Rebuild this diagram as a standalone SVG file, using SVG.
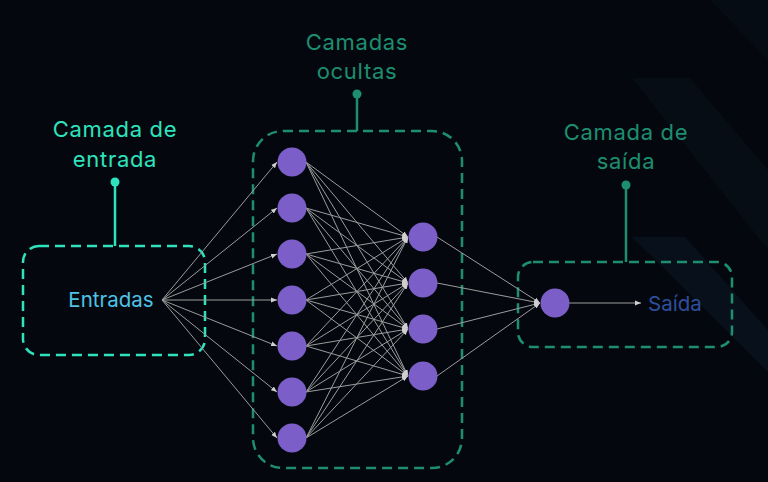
<svg xmlns="http://www.w3.org/2000/svg" width="768" height="482" viewBox="0 0 768 482">
<defs>
<marker id="ah" viewBox="0 0 6 6" refX="6" refY="3" markerWidth="6" markerHeight="6" markerUnits="userSpaceOnUse" orient="auto">
<path d="M0,0.6 L6,3 L0,5.4 Z" fill="#cfcfcf"/>
</marker>
<style>
.lbl{font-family:"Inter","Liberation Sans",sans-serif;font-size:22px;text-anchor:middle;letter-spacing:0.7px}
.in{fill:#2ee3bd}
.hd{fill:#1e8e70}
.box{fill:none;stroke-width:2.5;stroke-dasharray:10 6}
.node{fill:#7b5ec8}
.edge{stroke:#9c9c9c;stroke-width:1;fill:none;marker-end:url(#ah)}
.io{font-family:"Inter","Liberation Sans",sans-serif;font-size:20.5px}
</style>
</defs>
<rect width="768" height="482" fill="#04080e"/>
<g id="bg">
<polygon points="710,0 768,0 768,60" fill="#060c14"/>
<polygon points="632,78 690,78 768,170 768,250" fill="#060d15"/>
<polygon points="632,237 685,237 768,330 768,372" fill="#08111b"/>
</g>

<g id="input-layer">
<text class="lbl in" x="115" y="137">Camada de</text>
<text class="lbl in" x="115" y="167">entrada</text>
<circle cx="115" cy="182" r="4.5" fill="#2ee3bd"/>
<line x1="115" y1="182" x2="115" y2="246" stroke="#2ee3bd" stroke-width="2.5"/>
<rect class="box" x="23" y="246" width="182" height="109" rx="16" stroke="#2ee3bd"/>
<text class="io" x="111" y="307" text-anchor="middle" fill="#4fc2e6">Entradas</text>
</g>

<g id="hidden-layers">
<text class="lbl hd" x="357" y="50">Camadas</text>
<text class="lbl hd" x="357" y="79">ocultas</text>
<circle cx="357" cy="94" r="4.5" fill="#1e8e70"/>
<line x1="357" y1="94" x2="357" y2="131" stroke="#1e8e70" stroke-width="2.5"/>
<rect class="box" x="253" y="131" width="209" height="337" rx="30" stroke="#1e8e70"/>
</g>

<g id="output-layer">
<text class="lbl hd" x="626" y="140">Camada de</text>
<text class="lbl hd" x="626" y="169">saída</text>
<circle cx="626" cy="185" r="4.5" fill="#1e8e70"/>
<line x1="626" y1="185" x2="626" y2="262" stroke="#1e8e70" stroke-width="2.5"/>
<rect class="box" x="518" y="262" width="214" height="85" rx="15" stroke="#1e8e70"/>
<text class="io" x="648" y="311" fill="#2f4f9c">Saída</text>
</g>

<g id="connectors">
<path class="edge" d="M162,300 L277,162"/>
<path class="edge" d="M162,300 L277,208"/>
<path class="edge" d="M162,300 L277,254"/>
<path class="edge" d="M162,300 L277,300"/>
<path class="edge" d="M162,300 L277,346"/>
<path class="edge" d="M162,300 L277,392"/>
<path class="edge" d="M162,300 L277,438"/>

<path class="edge" d="M306,162 L408,237"/><path class="edge" d="M306,162 L408,283"/><path class="edge" d="M306,162 L408,329"/><path class="edge" d="M306,162 L408,376"/>
<path class="edge" d="M306,208 L408,237"/><path class="edge" d="M306,208 L408,283"/><path class="edge" d="M306,208 L408,329"/><path class="edge" d="M306,208 L408,376"/>
<path class="edge" d="M306,254 L408,237"/><path class="edge" d="M306,254 L408,283"/><path class="edge" d="M306,254 L408,329"/><path class="edge" d="M306,254 L408,376"/>
<path class="edge" d="M306,300 L408,237"/><path class="edge" d="M306,300 L408,283"/><path class="edge" d="M306,300 L408,329"/><path class="edge" d="M306,300 L408,376"/>
<path class="edge" d="M306,346 L408,237"/><path class="edge" d="M306,346 L408,283"/><path class="edge" d="M306,346 L408,329"/><path class="edge" d="M306,346 L408,376"/>
<path class="edge" d="M306,392 L408,237"/><path class="edge" d="M306,392 L408,283"/><path class="edge" d="M306,392 L408,329"/><path class="edge" d="M306,392 L408,376"/>
<path class="edge" d="M306,438 L408,237"/><path class="edge" d="M306,438 L408,283"/><path class="edge" d="M306,438 L408,329"/><path class="edge" d="M306,438 L408,376"/>

<path class="edge" d="M437,237 L540,303"/>
<path class="edge" d="M437,283 L540,303"/>
<path class="edge" d="M437,329 L540,303"/>
<path class="edge" d="M437,376 L540,303"/>

<path class="edge" d="M569,303 L641,303"/>
</g>

<g id="h1-nodes">
<circle id="h1-1" class="node" cx="292" cy="162" r="14.5"/>
<circle id="h1-2" class="node" cx="292" cy="208" r="14.5"/>
<circle id="h1-3" class="node" cx="292" cy="254" r="14.5"/>
<circle id="h1-4" class="node" cx="292" cy="300" r="14.5"/>
<circle id="h1-5" class="node" cx="292" cy="346" r="14.5"/>
<circle id="h1-6" class="node" cx="292" cy="392" r="14.5"/>
<circle id="h1-7" class="node" cx="292" cy="438" r="14.5"/>
</g>
<g id="h2-nodes">
<circle id="h2-1" class="node" cx="423" cy="237" r="14.5"/>
<circle id="h2-2" class="node" cx="423" cy="283" r="14.5"/>
<circle id="h2-3" class="node" cx="423" cy="329" r="14.5"/>
<circle id="h2-4" class="node" cx="423" cy="376" r="14.5"/>
</g>
<g id="out-node">
<circle class="node" cx="555" cy="303" r="14.5"/>
</g>
</svg>
